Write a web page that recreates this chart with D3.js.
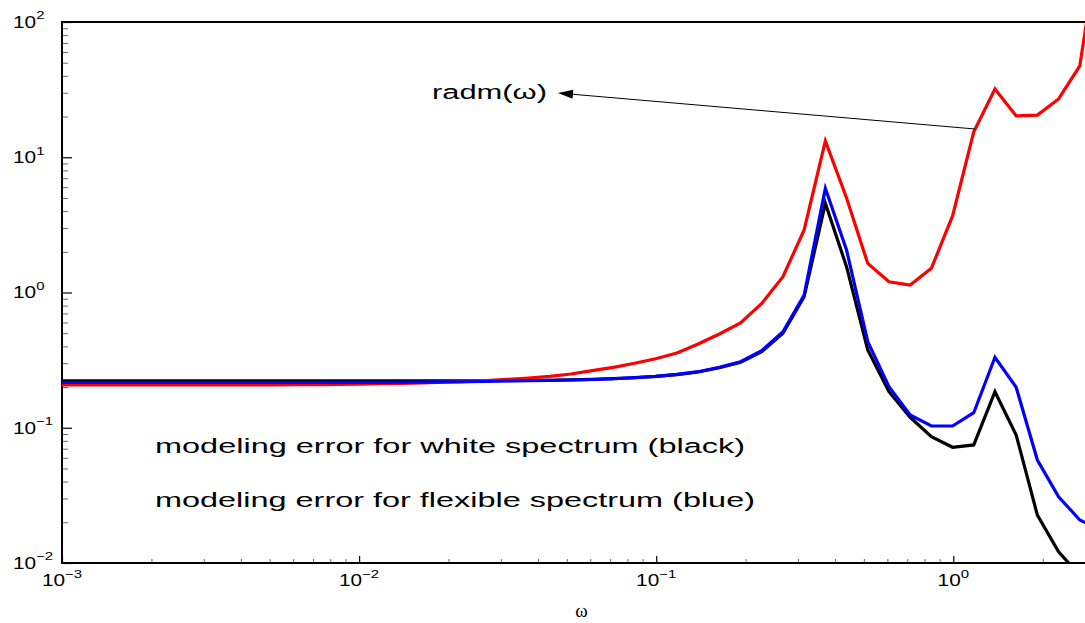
<!DOCTYPE html>
<html><head><meta charset="utf-8">
<script src="https://cdn.jsdelivr.net/npm/d3@7"></script>
<style>
body{margin:0;background:#fff;}
svg{display:block;}
text{font-family:"Liberation Sans",Arial,Helvetica,sans-serif;fill:#000;}
</style>
</head><body>
<svg id="chart" width="1085" height="623"></svg>
<script>
// ---- data ----
const omega = [0.001, 0.001179, 0.001389, 0.001637, 0.00193, 0.002275, 0.002681, 0.00316, 0.003725, 0.00439,
  0.005174, 0.006098, 0.007187, 0.008471, 0.009983, 0.011766, 0.013868, 0.016345, 0.019264, 0.022705,
  0.02676, 0.031539, 0.037172, 0.043812, 0.051636, 0.060858, 0.071728, 0.084538, 0.099633, 0.11743,
  0.1384, 0.16312, 0.19226, 0.22659, 0.26706, 0.31476, 0.37098, 0.43723, 0.51532, 0.60736,
  0.71584, 0.8437, 0.99435, 1.1719, 1.3812, 1.6279, 1.9187, 2.2614, 2.6653, 3.1416];

const radm = [0.207, 0.207, 0.207, 0.207, 0.207, 0.207, 0.207, 0.207, 0.207, 0.2072,
  0.2075, 0.208, 0.2085, 0.209, 0.210, 0.2115, 0.213, 0.215, 0.217, 0.2195,
  0.223, 0.228, 0.2333, 0.240, 0.2497, 0.2641, 0.2798, 0.2996, 0.3239, 0.357,
  0.416, 0.4933, 0.595, 0.83, 1.31, 2.9, 13.2, 5.0, 1.64, 1.2,
  1.135, 1.51, 3.68, 15.4, 32.0, 20.2, 20.5, 27, 47.3, 500];

const errFlexible = [0.216, 0.216, 0.216, 0.216, 0.216, 0.216, 0.216, 0.216, 0.216, 0.216,
  0.216, 0.216, 0.216, 0.2162, 0.2164, 0.2167, 0.217, 0.2175, 0.218, 0.2188,
  0.2198, 0.2217, 0.2228, 0.2243, 0.2254, 0.2273, 0.2304, 0.2344, 0.2401, 0.2484,
  0.2597, 0.2799, 0.3078, 0.3713, 0.5131, 0.9583, 5.894, 2.062, 0.4326, 0.2011,
  0.1243, 0.103, 0.103, 0.1292, 0.3318, 0.1991, 0.0577, 0.0309, 0.0208, 0.0175];

const errWhite = [0.222, 0.222, 0.222, 0.222, 0.222, 0.222, 0.222, 0.222, 0.222, 0.222,
  0.222, 0.222, 0.222, 0.222, 0.222, 0.222, 0.222, 0.222, 0.222, 0.2222,
  0.2225, 0.2228, 0.2235, 0.2245, 0.2258, 0.2276, 0.2305, 0.2342, 0.2395, 0.247,
  0.2585, 0.2775, 0.3045, 0.366, 0.50, 0.931, 4.568, 1.551, 0.3757, 0.1847,
  0.1195, 0.0859, 0.0717, 0.0746, 0.1847, 0.0884, 0.0226, 0.0121, 0.0081, 0.0052];

const xTickExps = [-3, -2, -1, 0];
const yTickExps = [-2, -1, 0, 1, 2];
const xLabel = "ω";
const annoRadm = "radm(ω)";
const annoWhite = "modeling error for white spectrum (black)";
const annoFlex = "modeling error for flexible spectrum (blue)";

// ---- layout ----
const L = 62, T = 22, R = 1101, B = 563;
const svg = d3.select("#chart");
const x = d3.scaleLog().domain([1e-3, Math.PI]).range([L, R]);
const y = d3.scaleLog().domain([1e-2, 1e2]).range([B, T]);

const minorVals = (lo, hi) => {
  const out = [];
  for (let e = lo; e < hi; e++) for (let m = 2; m <= 9; m++) out.push(m * Math.pow(10, e));
  return out;
};
const xMajor = xTickExps.map(e => Math.pow(10, e));
const yMajor = yTickExps.map(e => Math.pow(10, e));
const xMinor = minorVals(-3, 1).filter(v => v < Math.PI);
const yMinor = minorVals(-2, 2);

svg.append("defs").append("clipPath").attr("id", "plotclip")
  .append("rect").attr("x", L).attr("y", T).attr("width", R - L).attr("height", B - T);

// ticks
function styleAxis(g, color, width) {
  g.select(".domain").remove();
  g.selectAll(".tick line").attr("stroke", color).attr("stroke-width", width);
  g.selectAll(".tick text").remove();
}
svg.append("g").attr("transform", `translate(${L},0)`)
  .call(d3.axisRight(y).tickValues(yMinor).tickSize(6).tickFormat(""))
  .call(g => styleAxis(g, "#666", 1));
svg.append("g").attr("transform", `translate(${L},0)`)
  .call(d3.axisRight(y).tickValues(yMajor).tickSize(10).tickFormat(""))
  .call(g => styleAxis(g, "#000", 1.2));
svg.append("g").attr("transform", `translate(0,${B})`)
  .call(d3.axisTop(x).tickValues(xMinor).tickSize(4).tickFormat(""))
  .call(g => styleAxis(g, "#666", 1));
svg.append("g").attr("transform", `translate(0,${B})`)
  .call(d3.axisTop(x).tickValues(xMajor).tickSize(7).tickFormat(""))
  .call(g => styleAxis(g, "#000", 1.2));

// frame lines (left, bottom, top)
svg.append("path")
  .attr("d", `M${R},${T}H${L}V${B}H${R}`)
  .attr("fill", "none").attr("stroke", "#000").attr("stroke-width", 2);

// curves
const line = d3.line().x(d => x(d[0])).y(d => y(d[1]));
const plot = svg.append("g").attr("clip-path", "url(#plotclip)");
const series = [
  {vals: errWhite, color: "#000000"},
  {vals: radm, color: "#ff0000"},
  {vals: errFlexible, color: "#0000ff"}
];
series.forEach(s => {
  plot.append("path")
    .datum(omega.map((w, i) => [w, s.vals[i]]))
    .attr("d", line)
    .attr("fill", "none")
    .attr("stroke", s.color)
    .attr("stroke-width", 3.2)
    .attr("stroke-linejoin", "miter")
    .attr("stroke-miterlimit", 4);
});

// tick labels (10^n with superscript)
function powLabel(g, e, tx, ty, anchor) {
  const t = g.append("text")
    .attr("transform", `translate(${tx},${ty}) scale(1.3,1)`)
    .attr("text-anchor", anchor)
    .attr("font-size", 16);
  t.append("tspan").text("10");
  t.append("tspan").attr("font-size", 11.5).attr("dy", -8.5)
    .text(e < 0 ? "−" + Math.abs(e) : String(e));
}
const lab = svg.append("g");
yTickExps.forEach(e => powLabel(lab, e, 13, y(Math.pow(10, e)) + 5.8, "start"));
xTickExps.forEach(e => powLabel(lab, e, x(Math.pow(10, e)), 586, "middle"));

// x-axis label
svg.append("text").attr("x", (L + R) / 2).attr("y", 617)
  .attr("text-anchor", "middle")
  .style("font-family", "'Liberation Serif','DejaVu Serif',serif")
  .attr("font-size", 19).text(xLabel);

// annotations
svg.append("text").attr("x", 432).attr("y", 98.5)
  .attr("font-size", 20).attr("textLength", 115).attr("lengthAdjust", "spacingAndGlyphs")
  .text(annoRadm);
svg.append("text").attr("x", 155).attr("y", 453)
  .attr("font-size", 19.5).attr("textLength", 590).attr("lengthAdjust", "spacingAndGlyphs")
  .text(annoWhite);
svg.append("text").attr("x", 155).attr("y", 507)
  .attr("font-size", 19.5).attr("textLength", 600).attr("lengthAdjust", "spacingAndGlyphs")
  .text(annoFlex);

// arrow from the red curve to the label
const ax0 = 975, ay0 = 129, ax1 = 558, ay1 = 93;
const ang = Math.atan2(ay1 - ay0, ax1 - ax0);
const hl = 15, hw = 4.5;
const bx = ax1 - hl * Math.cos(ang), by = ay1 - hl * Math.sin(ang);
svg.append("line").attr("x1", ax0).attr("y1", ay0).attr("x2", bx).attr("y2", by)
  .attr("stroke", "#000").attr("stroke-width", 1);
svg.append("path")
  .attr("d", `M${ax1},${ay1}L${bx - hw * Math.sin(ang)},${by + hw * Math.cos(ang)}L${bx + hw * Math.sin(ang)},${by - hw * Math.cos(ang)}Z`)
  .attr("fill", "#000");
</script>
</body></html>
